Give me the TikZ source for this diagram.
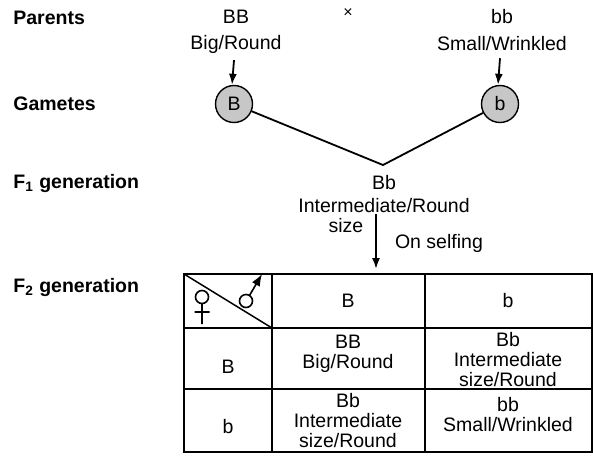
\documentclass[tikz,border=0pt]{standalone}
\usepackage{fontspec}
\setmainfont{Liberation Sans}
\usetikzlibrary{arrows.meta}
\tikzset{
    arr/.style={line width=0.9pt,-{Latex[length=5.5pt,width=4pt]}},
    gamete/.style={circle,draw,line width=0.7pt,fill=black!22,minimum size=18.5pt,inner sep=0pt},
    rowlabel/.style={anchor=west,inner xsep=0pt,font=\fontsize{9.75}{10}\selectfont\bfseries},
    cell/.style={align=center}
}
\begin{document}
\begin{tikzpicture}[x=0.5pt,y=-0.5pt,font=\fontsize{9.75}{10}\selectfont]
    \useasboundingbox (0,0) rectangle (593,462);
    \node[rowlabel] (lpar) at (13,18) {Parents};
    \node[rowlabel] (lgam) at (13,104) {Gametes};
    \node[rowlabel] (lfone) at (13,183) {F\textsubscript{1} generation};
    \node[rowlabel] (lftwo) at (13,287) {F\textsubscript{2} generation};
    \node (pBB) at (236,17) {BB};
    \node (pBBph) at (236,44) {Big/Round};
    \node[font=\fontsize{8}{8}\selectfont] (cross) at (348,13) {×};
    \node (pbb) at (502,17) {bb};
    \node (pbbph) at (502,44) {Small/Wrinkled};
    \node[gamete] (gB) at (234,104) {B};
    \node[gamete] (gb) at (500,104) {b};
    \draw[arr] ([xshift=-1pt]pBBph.south) -- ([xshift=-1pt]gB.north);
    \draw[arr] ([xshift=-1pt]pbbph.south) -- ([xshift=-1pt]gb.north);
    \coordinate (fuse) at (383,165);
    \draw[line width=0.9pt] (gB) -- (fuse) -- (gb);
    \node (fBb) at (384,183) {Bb};
    \node (fph) at (384,206) {Intermediate/Round};
    \node (fsize) at (346,226) {size};
    \coordinate (selfA) at (376,214);
    \coordinate (selfB) at (376,269);
    \draw[arr] (selfA) -- (selfB);
    \node[anchor=west] (self) at (388,243) {On selfing};
    % punnett square
    \draw[line width=0.75pt] (184,274) rectangle (592,452);
    \draw[line width=0.75pt] (272,274) -- (272,452) (425,274) -- (425,452);
    \draw[line width=0.75pt] (184,328) -- (592,328) (184,389) -- (592,389);
    \draw[line width=0.75pt] (184,274) -- (272,328);
    \draw[line width=0.8pt] (202,297) circle (6.5) (202,303.5) -- (202,324) (194.5,312) -- (209.5,312);
    \draw[line width=0.8pt] (246,301) circle (6.5);
    \draw[line width=0.8pt,-{Latex[length=6pt,width=4.5pt]}] (249.5,295.5) -- (262,274);
    \node (hB) at (348,301) {B};
    \node (hb) at (508,301) {b};
    \node (rB) at (228,367) {B};
    \node (rb) at (228,427) {b};
    \node[cell] (cBB) at (348,354) {BB\\Big/Round};
    \node[cell] (cBb) at (508,360) {Bb\\Intermediate\\size/Round};
    \node[cell] (cbB) at (348,421) {Bb\\Intermediate\\size/Round};
    \node[cell] (cbb) at (508,415) {bb\\Small/Wrinkled};
\end{tikzpicture}
\end{document}
